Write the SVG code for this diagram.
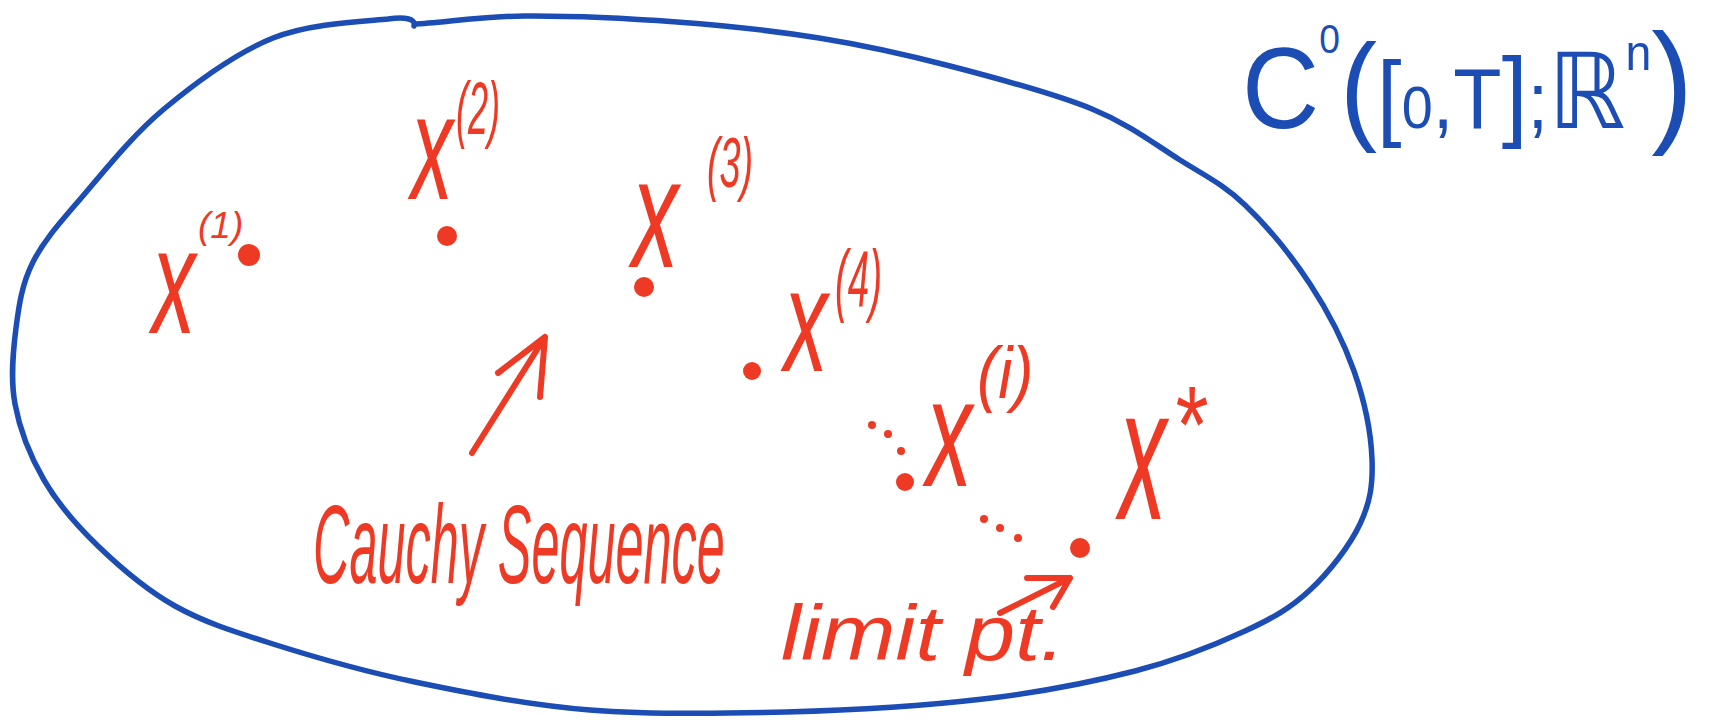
<svg xmlns="http://www.w3.org/2000/svg" width="1712" height="720" viewBox="0 0 1712 720">
<style>
.blob{fill:none;stroke:#1B4DB4;stroke-width:5.5;stroke-linecap:round;stroke-linejoin:round}
.title{font-family:"Liberation Sans","DejaVu Sans",sans-serif;fill:#1B4DB4}
.red{font-family:"Liberation Sans","DejaVu Sans",sans-serif;fill:#EE3A24;font-style:italic}
.dot{fill:#EE3A24}
.sdot{fill:#EE3A24}
.arr{fill:none;stroke:#EE3A24;stroke-width:6;stroke-linecap:round;stroke-linejoin:round}
</style>
<rect width="1712" height="720" fill="#ffffff"/>

<g id="space-boundary">
<path class="blob" d="M415,24 C437.7,23.5 480.3,16.3 524,16 C567.7,15.7 627.8,18.3 677,22 C726.2,25.7 773.5,30.7 819,38 C864.5,45.3 904.5,54.2 950,66 C995.5,77.8 1053.7,93.3 1092,109 C1130.3,124.7 1154.5,144 1180,160 C1205.5,176 1223.3,184.3 1245,205 C1266.7,225.7 1291.8,256.3 1310,284 C1328.2,311.7 1343.7,341.8 1354,371 C1364.3,400.2 1371,433.5 1372,459 C1373,484.5 1370.3,502.2 1360,524 C1349.7,545.8 1329.2,572.2 1310,590 C1290.8,607.8 1274.2,617.5 1245,631 C1215.8,644.5 1178.7,659.7 1135,671 C1091.3,682.3 1041.2,692.2 983,699 C924.8,705.8 851.5,710.2 786,712 C720.5,713.8 651.8,715 590,710 C528.2,705 467.8,693 415,682 C362.2,671 313,656.7 273,644 C233,631.3 204.2,622.3 175,606 C145.8,589.7 119.8,567 98,546 C76.2,525 57.8,503.7 44,480 C30.2,456.3 19.7,429.3 15,404 C10.3,378.7 13,351.7 16,328 C19,304.3 22,283.8 33,262 C44,240.2 60.2,222.5 82,197 C103.8,171.5 132.2,135.5 164,109 C195.8,82.5 235.7,53 273,38 C310.3,23 364.3,21.3 388,19 C404,17 416,18 414,26"/>
</g>

<g id="space-label">
<text class="title" transform="translate(1242,128) scale(0.93,1)" x="0" y="0"><tspan font-size="115">C</tspan><tspan font-size="40" dy="-75">0</tspan><tspan font-size="120" dy="75">(</tspan><tspan font-size="95">[</tspan><tspan font-size="60">0</tspan><tspan font-size="80">,</tspan><tspan font-size="85">T</tspan><tspan font-size="100">]</tspan><tspan font-size="80">;</tspan><tspan font-size="105">ℝ</tspan><tspan font-size="50" dy="-58">n</tspan><tspan font-size="135" dy="58">)</tspan></text>
</g>

<g id="x1">
<text class="red" font-size="150" transform="translate(152,333) scale(0.58,1)">x</text>
<text class="red" font-size="37" transform="translate(198,238)">(1)</text>
<circle class="dot" cx="249" cy="255" r="11"/>
</g>

<g id="x2">
<text class="red" font-size="150" transform="translate(411,199) scale(0.56,1)">x</text>
<text class="red" font-size="75" transform="translate(456,134) scale(0.48,1)">(2)</text>
<circle class="dot" cx="447" cy="236" r="10"/>
</g>

<g id="x3">
<text class="red" font-size="155" transform="translate(632,267) scale(0.6,1)">x</text>
<text class="red" font-size="70" transform="translate(707,187) scale(0.54,1)">(3)</text>
<circle class="dot" cx="644" cy="287" r="10"/>
</g>

<g id="x4">
<text class="red" font-size="146" transform="translate(784,371) scale(0.6,1)">x</text>
<text class="red" font-size="80" transform="translate(835,306) scale(0.48,1)">(4)</text>
<circle class="dot" cx="752" cy="371" r="9"/>
</g>

<g id="xi">
<text class="red" font-size="154" transform="translate(926,486) scale(0.6,1)">x</text>
<text class="red" font-size="73" transform="translate(977,398) scale(0.87,1)">(i)</text>
<circle class="dot" cx="905" cy="482" r="9"/>
<circle class="sdot" cx="872" cy="425" r="4"/>
<circle class="sdot" cx="888" cy="434" r="4"/>
<circle class="sdot" cx="901" cy="451" r="4"/>
</g>

<g id="xstar">
<text class="red" font-size="190" transform="translate(1119,519) scale(0.5,1)">x</text>
<text class="red" font-size="110" transform="translate(1172,462) scale(0.77,1)">*</text>
<circle class="dot" cx="1080" cy="548" r="10"/>
<circle class="sdot" cx="984" cy="519" r="4"/>
<circle class="sdot" cx="1000" cy="528" r="4"/>
<circle class="sdot" cx="1018" cy="538" r="4"/>
</g>

<g id="cauchy-label">
<text class="red" font-size="112" transform="translate(313,583) scale(0.45,1)">Cauchy Sequence</text>
</g>

<g id="limit-label">
<text class="red" font-size="78" transform="translate(781,660) scale(1.15,1)">limit pt.</text>
</g>

<g id="connectors">
<path class="arr" d="M472,453 L545,337 M498,373 L545,337 L540,397"/>
<path class="arr" d="M1000,613 L1070,578 M1027,578 L1070,578 L1053,607"/>
</g>
</svg>
